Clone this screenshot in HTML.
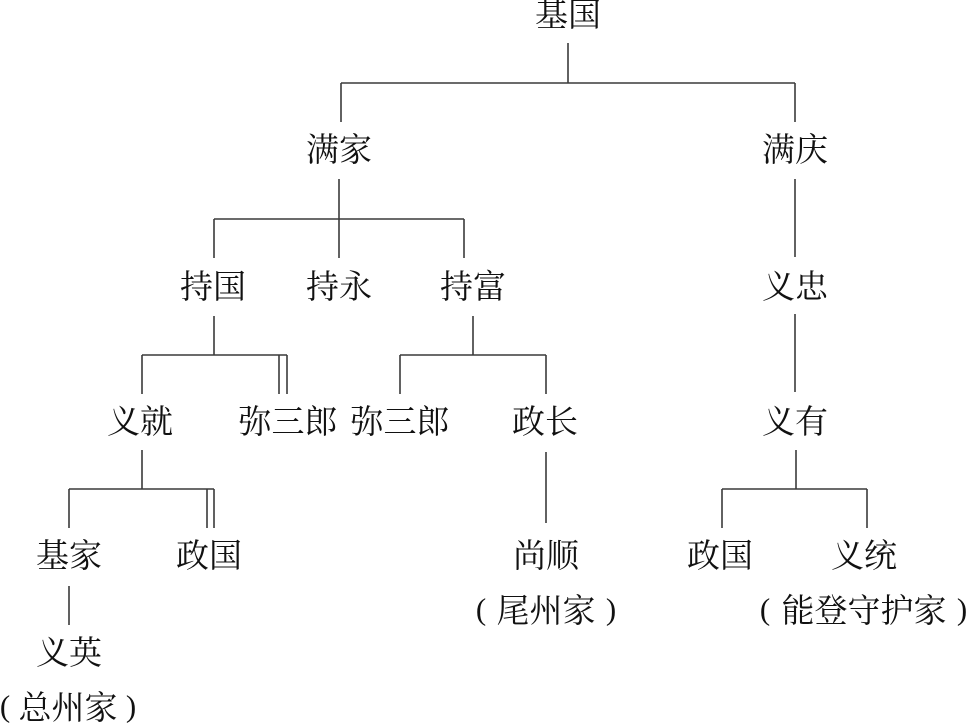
<!DOCTYPE html>
<html>
<head>
<meta charset="utf-8">
<style>
html,body{margin:0;padding:0;background:#fff;}
svg{display:block;}
text{font-family:"Liberation Serif","Noto Serif CJK SC",serif;font-size:33px;fill:#111;}
text.p{font-family:"Liberation Serif",serif;font-size:31px;}
line{stroke:#3a3a3a;stroke-width:1.6;}
</style>
</head>
<body>
<svg width="968" height="724" viewBox="0 0 968 724" xmlns="http://www.w3.org/2000/svg">
<g text-anchor="middle" dominant-baseline="central">
<text x="568" y="16">基国</text>
<text x="339" y="151">满家</text>
<text x="795" y="151">满庆</text>
<text x="213" y="288">持国</text>
<text x="339" y="288">持永</text>
<text x="473" y="288">持富</text>
<text x="795" y="288">义忠</text>
<text x="140" y="423">义就</text>
<text x="288" y="423">弥三郎</text>
<text x="400" y="423">弥三郎</text>
<text x="545" y="423">政长</text>
<text x="795" y="423">义有</text>
<text x="69" y="557">基家</text>
<text x="209" y="557">政国</text>
<text x="546" y="557">尚顺</text>
<text x="720" y="557">政国</text>
<text x="864" y="557">义统</text>
<text x="546" y="612">尾州家</text>
<text x="864" y="612">能登守护家</text>
<text x="69" y="654">义英</text>
<text x="68" y="709">总州家</text>
<text class="p" x="481" y="609">(</text>
<text class="p" x="611" y="609">)</text>
<text class="p" x="765" y="609">(</text>
<text class="p" x="962" y="609">)</text>
<text class="p" x="5" y="706">(</text>
<text class="p" x="131" y="706">)</text>
</g>
<g>
<line x1="568" y1="43" x2="568" y2="83"/>
<line x1="341" y1="83" x2="795" y2="83"/>
<line x1="341" y1="83" x2="341" y2="122"/>
<line x1="795" y1="83" x2="795" y2="122"/>

<line x1="339" y1="179" x2="339" y2="258"/>
<line x1="214" y1="219" x2="464" y2="219"/>
<line x1="214" y1="219" x2="214" y2="258"/>
<line x1="464" y1="219" x2="464" y2="258"/>

<line x1="795" y1="179" x2="795" y2="257"/>

<line x1="214" y1="316" x2="214" y2="355"/>
<line x1="142" y1="355" x2="287" y2="355"/>
<line x1="142" y1="355" x2="142" y2="394"/>
<line x1="279" y1="355" x2="279" y2="394"/>
<line x1="287" y1="355" x2="287" y2="394"/>

<line x1="473" y1="316" x2="473" y2="355"/>
<line x1="400" y1="355" x2="546" y2="355"/>
<line x1="400" y1="355" x2="400" y2="394"/>
<line x1="546" y1="355" x2="546" y2="394"/>

<line x1="795" y1="314" x2="795" y2="392"/>

<line x1="142" y1="450" x2="142" y2="489"/>
<line x1="69" y1="489" x2="214" y2="489"/>
<line x1="69" y1="489" x2="69" y2="528"/>
<line x1="207" y1="489" x2="207" y2="528"/>
<line x1="214" y1="489" x2="214" y2="528"/>

<line x1="546" y1="452" x2="546" y2="523"/>

<line x1="796" y1="450" x2="796" y2="489"/>
<line x1="722" y1="489" x2="867" y2="489"/>
<line x1="722" y1="489" x2="722" y2="528"/>
<line x1="867" y1="489" x2="867" y2="528"/>

<line x1="69" y1="586" x2="69" y2="625"/>
</g>
</svg>
</body>
</html>
